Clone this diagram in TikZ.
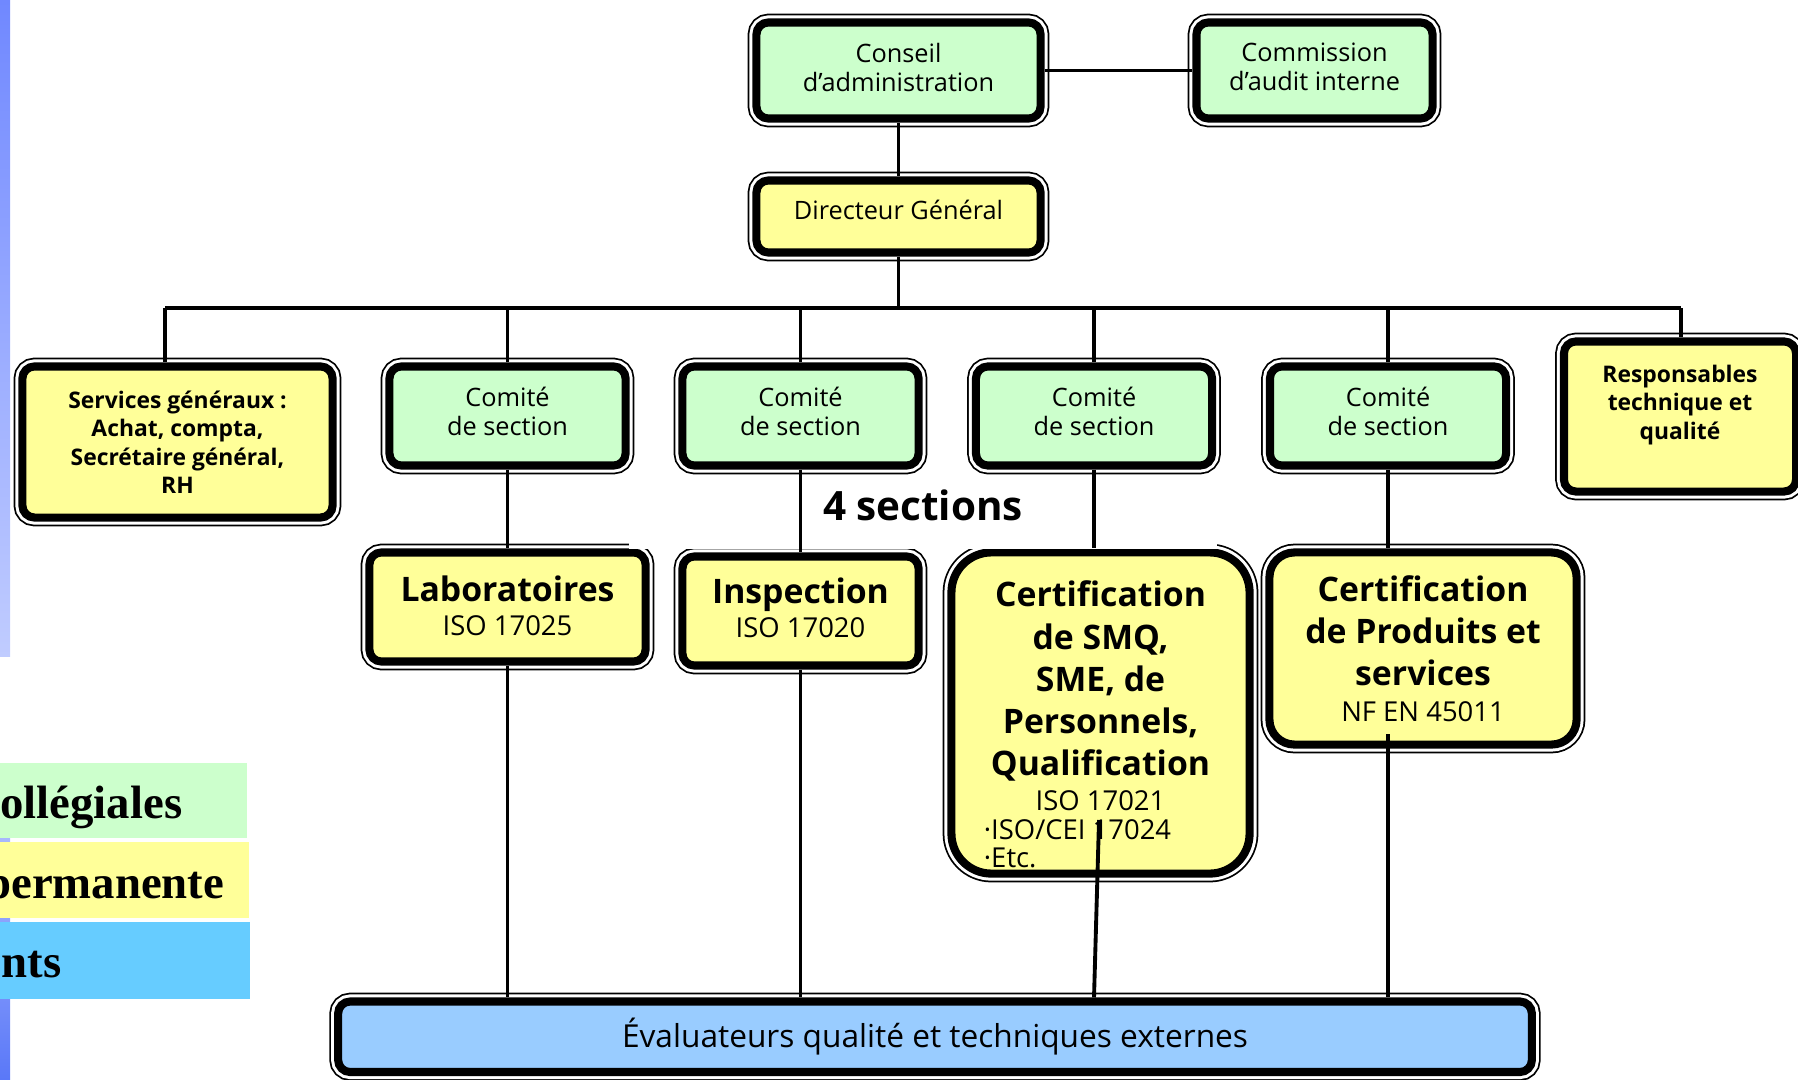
\documentclass[tikz,border=0pt]{standalone}
\usepackage{fontspec}
\setmainfont{Open Sans}
\newfontfamily\legendfont{Liberation Serif}

\definecolor{boardgreen}{HTML}{CCFFCC}
\definecolor{staffyellow}{HTML}{FFFF99}
\definecolor{assessorblue}{HTML}{99CCFF}
\definecolor{legendblue}{HTML}{66CCFF}
\definecolor{stripmid}{HTML}{7088FF}
\definecolor{striplight}{HTML}{C0CCFF}
\definecolor{stripdark}{HTML}{5A78F8}

\newcommand\sectitle{\fontsize{9.6}{12}\selectfont\bfseries}

\begin{document}
\begin{tikzpicture}[x=0.01cm, y=-0.01cm,
  box/.style={rectangle, rounded corners=0.12cm, draw=black, line width=2.3pt,
    align=center, inner sep=0pt,
    preaction={draw=black, line width=5pt},
    preaction={draw=white, line width=4pt}},
  boardbox/.style={box, fill=boardgreen},
  staffbox/.style={box, fill=staffyellow},
  evalbox/.style={box, fill=assessorblue},
  small/.style={font=\fontsize{7.2}{8.2}\selectfont},
  smallbold/.style={font=\fontsize{6.5}{8.1}\selectfont\bfseries},
  iso/.style={font=\fontsize{7.8}{12}\selectfont},
  legend/.style={font=\legendfont\bfseries\fontsize{13.3}{15}\selectfont, inner sep=0pt},
  link/.style={line width=1.1pt}]

\useasboundingbox (0,0) rectangle (1798,1079);
\clip (0,0) rectangle (1798,1079);

\shade[top color=stripmid, bottom color=striplight] (0,0) rectangle (10,656);
\shade[top color=striplight, bottom color=stripdark] (0,763) rectangle (10,1079);

\fill[boardgreen] (0,763) rectangle (247,838);
\fill[staffyellow] (0,842) rectangle (249,918);
\fill[legendblue] (0,922) rectangle (250,999);
\node[legend, anchor=base east] (leg1) at (183,818) {ollégiales};
\node[legend, anchor=base east] (leg2) at (225,898) {permanente};
\node[legend, anchor=base east] (leg3) at (62,977) {nts};

\node[boardbox, small, minimum width=2.84cm, minimum height=0.96cm] (conseil) at (898.5,70.5) {Conseil\\d’administration\rule[-2pt]{0pt}{0pt}};
\node[boardbox, small, minimum width=2.36cm, minimum height=0.96cm] (commission) at (1314.5,70.5) {Commission\\d’audit interne\rule[-2pt]{0pt}{0pt}};
\node[staffbox, small, minimum width=2.84cm, minimum height=0.72cm] (directeur) at (898.5,216.5) {Directeur Général\rule[-4pt]{0pt}{0pt}};

\node[staffbox, smallbold, minimum width=3.10cm, minimum height=1.51cm] (services) at (177.5,442) {Services généraux :\\Achat, compta,\\Secrétaire général,\\RH};
\node[boardbox, font=\fontsize{7.2}{8.5}\selectfont, minimum width=2.36cm, minimum height=0.99cm] (comite1) at (507.5,416) {Comité\\de section\rule[-2.7pt]{0pt}{0pt}};
\node[boardbox, font=\fontsize{7.2}{8.5}\selectfont, minimum width=2.36cm, minimum height=0.99cm] (comite2) at (800.5,416) {Comité\\de section\rule[-2.7pt]{0pt}{0pt}};
\node[boardbox, font=\fontsize{7.2}{8.5}\selectfont, minimum width=2.36cm, minimum height=0.99cm] (comite3) at (1094,416) {Comité\\de section\rule[-2.7pt]{0pt}{0pt}};
\node[boardbox, font=\fontsize{7.2}{8.5}\selectfont, minimum width=2.36cm, minimum height=0.99cm] (comite4) at (1388,416) {Comité\\de section\rule[-2.7pt]{0pt}{0pt}};
\node[staffbox, smallbold, minimum width=2.32cm, minimum height=1.50cm] (resp) at (1680,416.5) {Responsables\\technique et\\qualité\\\mbox{}};

\node[staffbox, font=\fontsize{7.8}{9.7}\selectfont, minimum width=2.76cm, minimum height=1.09cm] (labo) at (507.5,607) {{\sectitle Laboratoires}\\ISO 17025\rule[-1pt]{0pt}{0pt}};
\node[staffbox, font=\fontsize{7.8}{9.7}\selectfont, minimum width=2.36cm, minimum height=1.09cm] (insp) at (800.5,611) {{\sectitle Inspection}\\ISO 17020\rule[-2pt]{0pt}{0pt}};
\node[staffbox, iso, rounded corners=0.4cm, minimum width=2.98cm, minimum height=3.21cm] (smq) at (1100.5,713)
  {{\sectitle\rule{0pt}{14pt}Certification}\\{\sectitle de SMQ,}\\{\sectitle SME, de}\\{\sectitle Personnels,}\\{\sectitle Qualification}\\[-2.2pt]ISO 17021\\[-3.8pt]\makebox[2.33cm][l]{·ISO/CEI 17024}\\[-3.8pt]\makebox[2.33cm][l]{·Etc.}};
\node[staffbox, iso, rounded corners=0.25cm, minimum width=3.07cm, minimum height=1.92cm] (produits) at (1423,648.5)
  {{\sectitle Certification}\\{\sectitle de Produits et}\\{\sectitle services}\\[-1.9pt]NF EN 45011};

\node[evalbox, font=\fontsize{9}{10}\selectfont, minimum width=11.93cm, minimum height=0.705cm] (eval) at (935,1036.75) {Évaluateurs qualité et techniques externes};

\fill[white] (629,476) rectangle (1217,549);
\node[font=\fontsize{11.5}{14}\selectfont\bfseries] (sections) at (923,505) {4 sections};

\coordinate (bl) at (165,308);
\coordinate (br) at (1681,308);
\coordinate (smqin) at (1099,820);
\coordinate (prodin) at (1388,734);

\draw[link] (conseil) -- (commission);
\draw[link] (conseil) -- (directeur);
\draw[link] (directeur.south) -- (directeur.south |- bl);
\draw[link] (bl) -- (br);
\draw[link] (bl) -- (bl |- services.north);
\draw[link] (br) -- (br |- resp.north);
\foreach \c/\s in {comite1/labo, comite2/insp, comite3/smq, comite4/produits} {
  \draw[link] (\c.north) -- (\c.north |- bl);
  \draw[link] (\c.south) -- (\c.south |- \s.north);
}
\draw[link] (labo.south) -- (labo.south |- eval.north);
\draw[link] (insp.south) -- (insp.south |- eval.north);
\draw[link] (smqin) -- (comite3.south |- eval.north);
\draw[link] (prodin) -- (comite4.south |- eval.north);

\end{tikzpicture}
\end{document}
